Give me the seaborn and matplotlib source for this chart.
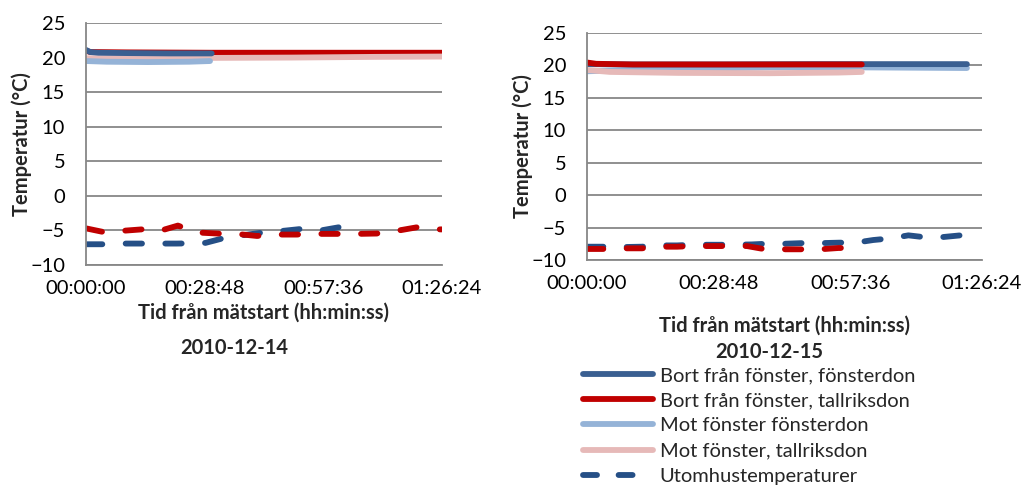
import numpy as np
import pandas as pd
import matplotlib
matplotlib.use("Agg")
import matplotlib.pyplot as plt
import seaborn as sns
from matplotlib.lines import Line2D
from matplotlib.ticker import FuncFormatter

# tid i minuter från mätstart
# --- 2010-12-14 ---
d1_bort_fd_t = [0, 1, 3, 10, 20, 30.5]
d1_bort_fd_v = [21.1, 20.8, 20.7, 20.65, 20.6, 20.6]
d1_bort_td_t = [0, 1, 10, 30, 50, 70, 86.4]
d1_bort_td_v = [21.0, 20.8, 20.75, 20.7, 20.7, 20.7, 20.7]
d1_mot_fd_t = [0, 5, 15, 25, 30.1]
d1_mot_fd_v = [19.5, 19.4, 19.35, 19.4, 19.5]
d1_mot_td_t = [0, 10, 30, 50, 70, 86.4]
d1_mot_td_v = [19.9, 19.9, 19.95, 20.0, 20.1, 20.15]
d1_ute_bla_t = [0, 4, 9, 13, 18, 22, 27, 29, 33.5, 38, 43, 48, 52, 57, 61.3]
d1_ute_bla_v = [-7.0, -7.0, -6.9, -6.9, -6.9, -6.9, -6.85, -6.8, -6.1, -5.7, -5.3, -5.05, -4.8, -5.0, -4.55]
d1_ute_rod_t = [0, 4, 9, 13.5, 18, 22.3, 27, 32, 36.5, 41.5, 46, 51, 56, 61, 66, 70.5, 75.5, 80.3, 84.7, 86.4]
d1_ute_rod_v = [-4.7, -5.2, -5.05, -4.85, -5.05, -4.3, -5.3, -5.45, -5.5, -5.8, -5.6, -5.6, -5.5, -5.5, -5.5, -5.45, -5.05, -4.55, -4.85, -4.85]

# --- 2010-12-15 ---
d2_bort_fd_t = [0, 10, 30, 50, 70, 83.1]
d2_bort_fd_v = [20.2, 20.15, 20.15, 20.2, 20.2, 20.2]
d2_bort_td_t = [0, 2, 10, 30, 50, 60.1]
d2_bort_td_v = [20.45, 20.25, 20.15, 20.15, 20.15, 20.15]
d2_mot_fd_t = [0, 10, 25, 40, 60, 83.1]
d2_mot_fd_v = [19.1, 19.3, 19.5, 19.7, 19.7, 19.6]
d2_mot_td_t = [0, 5, 20, 40, 55, 60.1]
d2_mot_td_v = [19.3, 19.0, 18.85, 18.8, 18.9, 19.0]
d2_ute_bla_t = [0, 4, 8, 12, 15.5, 19.7, 23, 27.6, 31, 36, 39, 43, 47, 51, 55, 59, 62.6, 66.5, 70.3, 74, 78, 81.7, 85.3, 86.4]
d2_ute_bla_v = [-7.95, -7.95, -8.0, -7.95, -7.75, -7.75, -7.65, -7.65, -7.65, -7.6, -7.5, -7.5, -7.4, -7.4, -7.33, -7.3, -6.92, -6.66, -6.2, -6.5, -6.45, -6.2, -6.35, -6.35]
d2_ute_rod_t = [0, 4, 8, 12, 15.5, 19.7, 23, 27.6, 31, 35, 39, 43, 47, 51, 55, 58.9]
d2_ute_rod_v = [-8.3, -8.3, -8.2, -8.2, -7.95, -7.95, -7.85, -7.85, -7.85, -7.85, -8.35, -8.35, -8.35, -8.35, -8.15, -8.15]

x_ticks = [0, 28.8, 57.6, 86.4]
y_ticks = [-10, -5, 0, 5, 10, 15, 20, 25]

labels = ["Bort från fönster, fönsterdon", "Bort från fönster, tallriksdon",
          "Mot fönster fönsterdon", "Mot fönster, tallriksdon", "Utomhustemperaturer"]
c_bort_fd = "#3A5F91"
c_bort_td = "#C00000"
c_mot_fd = "#95B3D7"
c_mot_td = "#E6B9B8"
c_ute = "#254F86"
grid_c = "#878787"

sns.set_style("white")
plt.rcParams["font.family"] = ["Lato", "DejaVu Sans"]
fs = 14.5
plt.rcParams["font.size"] = fs

fig = plt.figure(figsize=(10.30, 4.92), dpi=100)
ax1 = fig.add_axes([86 / 1030, 1 - 265 / 492, (442 - 86) / 1030, (265 - 23) / 492])
ax2 = fig.add_axes([587 / 1030, 1 - 260 / 492, (982 - 587) / 1030, (260 - 33) / 492])

dash = (0, (2.8, 4.0))
lw = 4.2


def hms(x, pos):
    s = int(round(x * 60))
    return "%02d:%02d:%02d" % (s // 3600, (s % 3600) // 60, s % 60)


def draw(ax, series):
    for t, v, c, ls in series:
        sns.lineplot(x=t, y=v, ax=ax, color=c, linewidth=lw, linestyle=ls,
                     estimator=None, sort=False, solid_capstyle="round",
                     dash_capstyle="round")
    ax.set_xlim(0, 86.4)
    ax.set_ylim(-10, 25)
    ax.set_xticks(x_ticks)
    ax.set_yticks(y_ticks)
    ax.xaxis.set_major_formatter(FuncFormatter(hms))
    ax.grid(axis="y", color=grid_c, linewidth=1.3)
    ax.grid(axis="x", visible=False)
    ax.set_axisbelow(True)
    for side in ["top", "right"]:
        ax.spines[side].set_visible(False)
    for side in ["left", "bottom"]:
        ax.spines[side].set_color(grid_c)
        ax.spines[side].set_linewidth(1.3)
    ax.tick_params(axis="both", direction="out", length=6, width=1.3, color=grid_c,
                   labelcolor="black", labelsize=fs)
    ax.tick_params(axis="y", pad=9)
    ax.tick_params(axis="x", pad=5)
    ax.set_ylabel("Temperatur (°C)", fontweight="bold", fontsize=fs, labelpad=-1)
    ax.set_xlabel("Tid från mätstart (hh:min:ss)", fontweight="bold", fontsize=fs)


draw(ax1, [
    (d1_bort_td_t, d1_bort_td_v, c_bort_td, "-"),
    (d1_mot_td_t, d1_mot_td_v, c_mot_td, "-"),
    (d1_mot_fd_t, d1_mot_fd_v, c_mot_fd, "-"),
    (d1_bort_fd_t, d1_bort_fd_v, c_bort_fd, "-"),
    (d1_ute_bla_t, d1_ute_bla_v, c_ute, dash),
    (d1_ute_rod_t, d1_ute_rod_v, c_bort_td, dash),
])
draw(ax2, [
    (d2_mot_fd_t, d2_mot_fd_v, c_mot_fd, "-"),
    (d2_bort_fd_t, d2_bort_fd_v, c_bort_fd, "-"),
    (d2_mot_td_t, d2_mot_td_v, c_mot_td, "-"),
    (d2_bort_td_t, d2_bort_td_v, c_bort_td, "-"),
    (d2_ute_bla_t, d2_ute_bla_v, c_ute, dash),
    (d2_ute_rod_t, d2_ute_rod_v, c_bort_td, dash),
])
ax1.xaxis.labelpad = 4
ax2.xaxis.labelpad = 17

fig.text(234 / 1030, 1 - 348 / 492, "2010-12-14", ha="center", va="center",
         fontweight="bold", fontsize=fs)
fig.text(769 / 1030, 1 - 352 / 492, "2010-12-15", ha="center", va="center",
         fontweight="bold", fontsize=fs)

handles = [
    Line2D([0], [0], color=c_bort_fd, lw=lw, solid_capstyle="round"),
    Line2D([0], [0], color=c_bort_td, lw=lw, solid_capstyle="round"),
    Line2D([0], [0], color=c_mot_fd, lw=lw, solid_capstyle="round"),
    Line2D([0], [0], color=c_mot_td, lw=lw, solid_capstyle="round"),
    Line2D([0], [0], color=c_ute, lw=lw, linestyle=(0, (2.4, 3.7)), dash_capstyle="round"),
]
fig.legend(handles, labels, loc="upper left", bbox_to_anchor=(583 / 1030, 1 - 367 / 492),
           frameon=False, fontsize=fs, handlelength=3.5, handletextpad=0.3,
           labelspacing=0.4, borderpad=0, borderaxespad=0)

fig.savefig("out.png", dpi=100)
